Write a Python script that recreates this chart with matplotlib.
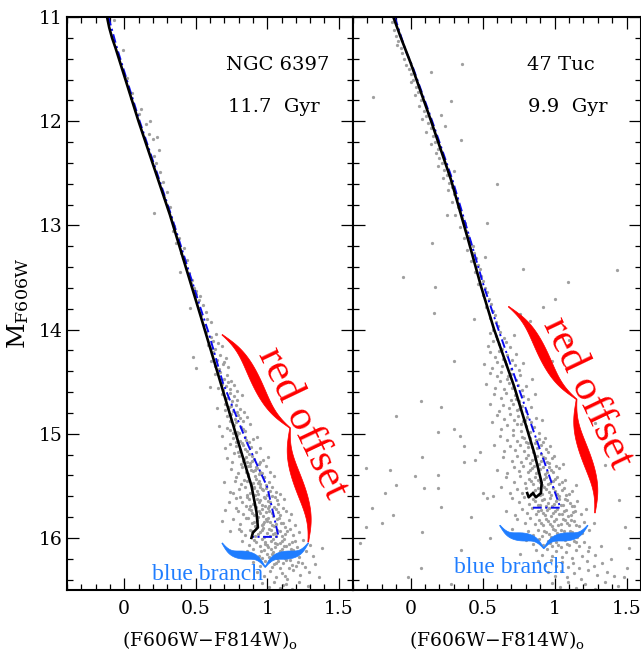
import numpy as np
import matplotlib
matplotlib.use("Agg")
import matplotlib.pyplot as plt
from matplotlib.ticker import MultipleLocator, FuncFormatter
from matplotlib.patches import Polygon

plt.rcParams['font.family'] = ['DejaVu Serif']
plt.rcParams['mathtext.fontset'] = 'dejavuserif'

# ---- isochrones (colour, magnitude) ----
ngc6397_iso_color = [-0.12, -0.105, -0.085, -0.06, 0.10, 0.32, 0.53, 0.65, 0.78, 0.89, 0.925, 0.935, 0.90, 0.89]
ngc6397_iso_mag = [11.0, 11.1, 11.2, 11.3, 12.0, 12.9, 13.85, 14.4, 15.0, 15.5, 15.75, 15.9, 15.95, 16.0]
ngc6397_alt_color = [-0.11, -0.05, 0.108, 0.328, 0.535, 0.59, 0.69, 0.86, 1.0, 1.08, 0.90]
ngc6397_alt_mag = [11.0, 11.3, 12.0, 12.9, 13.8, 14.03, 14.51, 15.09, 15.51, 15.99, 15.99]

tuc47_iso_color = [-0.12, -0.07, 0.0, 0.14, 0.28, 0.40, 0.49, 0.58, 0.72, 0.86, 0.91, 0.905, 0.87, 0.85, 0.82, 0.81]
tuc47_iso_mag = [11.0, 11.19, 11.44, 11.99, 12.56, 13.14, 13.59, 14.0, 14.55, 15.19, 15.47, 15.57, 15.61, 15.57, 15.61, 15.57]
tuc47_alt_color = [-0.11, -0.035, 0.015, 0.15, 0.29, 0.415, 0.51, 0.61, 0.85, 1.04, 0.83]
tuc47_alt_mag = [11.0, 11.32, 11.48, 12.0, 12.56, 13.14, 13.59, 14.0, 14.96, 15.71, 15.71]

ngc6397_stars = [
    (-0.07, 11.03), (-0.01, 11.32), (0.02, 11.59), (0.055, 11.73), (0.05, 11.78), (0.12, 11.88), (0.10, 11.93),
    (0.18, 12.0), (0.15, 12.03), (0.17, 12.12), (0.23, 12.15), (0.20, 12.17), (0.24, 12.28), (0.21, 12.33),
    (0.22, 12.40), (0.25, 12.49), (0.27, 12.58), (0.30, 12.68), (0.28, 12.73), (0.32, 12.82), (0.21, 12.88),
    (0.33, 12.93), (0.35, 13.01), (0.34, 13.05), (0.38, 13.12), (0.36, 13.17), (0.42, 13.22), (0.40, 13.27),
    (0.41, 13.31), (0.44, 13.33), (0.39, 13.45), (0.45, 13.46), (0.475, 13.52), (0.47, 13.55), (0.49, 13.60),
    (0.50, 13.63), (0.50, 13.66), (0.53, 13.68), (0.52, 13.72), (0.55, 13.76), (0.46, 13.79), (0.57, 13.83),
    (0.54, 13.86), (0.58, 13.90), (0.61, 13.93), (0.56, 13.96),
    (0.572, 14.02), (0.604, 14.07), (0.623, 14.11), (0.641, 14.04), (0.588, 14.15), (0.612, 14.18), (0.657, 14.13),
    (0.633, 14.19), (0.681, 14.16),
    (0.482, 14.26), (0.618, 14.22), (0.652, 14.29), (0.671, 14.24), (0.697, 14.31), (0.634, 14.35), (0.503, 14.37),
    (0.661, 14.38), (0.688, 14.33), (0.712, 14.27), (0.729, 14.36), (0.607, 14.30),
    (0.632, 14.43), (0.668, 14.41), (0.701, 14.47), (0.722, 14.44), (0.748, 14.49), (0.681, 14.52), (0.659, 14.56),
    (0.693, 14.58), (0.714, 14.54), (0.741, 14.57), (0.768, 14.53), (0.787, 14.59), (0.598, 14.55), (0.726, 14.50),
    (0.682, 14.62), (0.716, 14.66), (0.739, 14.61), (0.771, 14.64), (0.792, 14.68), (0.707, 14.71), (0.823, 14.63),
    (0.752, 14.69), (0.703, 14.77), (0.731, 14.74), (0.758, 14.78), (0.784, 14.72), (0.808, 14.76), (0.839, 14.79),
    (0.747, 14.73), (0.792, 14.79), (0.652, 14.75),
    (0.722, 14.83), (0.748, 14.81), (0.773, 14.86), (0.797, 14.82), (0.829, 14.88), (0.858, 14.84), (0.781, 14.89),
    (0.812, 14.85), (0.741, 14.88), (0.662, 14.93), (0.739, 14.96), (0.768, 14.92), (0.791, 14.98), (0.819, 14.94),
    (0.847, 14.97), (0.878, 14.91), (0.803, 14.99), (0.834, 14.95), (0.758, 14.99),
    (0.683, 15.02), (0.761, 15.04), (0.788, 15.01), (0.812, 15.07), (0.843, 15.03), (0.871, 15.08), (0.902, 15.05),
    (0.823, 15.09), (0.852, 15.06), (0.928, 15.03), (0.779, 15.08), (0.703, 15.14), (0.781, 15.12), (0.809, 15.16),
    (0.831, 15.11), (0.862, 15.17), (0.889, 15.13), (0.921, 15.18), (0.842, 15.15), (0.871, 15.19), (0.952, 15.14),
    (0.798, 15.18),
    (0.722, 15.23), (0.802, 15.21), (0.828, 15.26), (0.851, 15.22), (0.879, 15.28), (0.908, 15.24), (0.941, 15.29),
    (0.862, 15.27), (0.893, 15.21), (0.968, 15.25), (0.817, 15.29), (1.003, 15.22), (0.748, 15.34), (0.821, 15.32),
    (0.853, 15.37), (0.877, 15.31), (0.902, 15.36), (0.931, 15.33), (0.962, 15.38), (0.989, 15.31), (0.869, 15.39),
    (0.912, 15.35), (1.018, 15.37), (0.798, 15.38), (0.944, 15.39),
    (0.781, 15.42), (0.838, 15.44), (0.867, 15.41), (0.898, 15.47), (0.923, 15.43), (0.952, 15.48), (0.978, 15.42),
    (1.011, 15.46), (0.887, 15.49), (0.941, 15.45), (1.049, 15.41), (0.819, 15.48), (0.701, 15.46), (0.803, 15.53),
    (0.842, 15.51), (0.879, 15.57), (0.911, 15.52), (0.939, 15.58), (0.972, 15.54), (1.002, 15.59), (1.031, 15.51),
    (1.062, 15.56), (0.861, 15.59), (0.928, 15.55), (0.991, 15.52), (1.088, 15.58), (0.762, 15.57), (0.951, 15.51),
    (0.782, 15.62), (0.823, 15.66), (0.859, 15.61), (0.898, 15.67), (0.931, 15.63), (0.962, 15.68), (0.988, 15.62),
    (1.021, 15.66), (1.052, 15.61), (1.079, 15.67), (0.878, 15.69), (0.951, 15.64), (1.012, 15.69), (1.118, 15.63),
    (0.731, 15.66), (0.702, 15.73), (0.779, 15.71), (0.831, 15.77), (0.872, 15.72), (0.909, 15.78), (0.942, 15.74),
    (0.971, 15.79), (1.003, 15.71), (1.032, 15.76), (1.061, 15.72), (1.092, 15.78), (1.128, 15.74), (0.893, 15.76),
    (0.962, 15.72), (1.041, 15.79), (1.163, 15.77), (0.991, 15.75),
    (0.683, 15.84), (0.762, 15.82), (0.808, 15.87), (0.851, 15.81), (0.892, 15.86), (0.928, 15.83), (0.961, 15.88),
    (0.989, 15.82), (1.021, 15.85), (1.048, 15.89), (1.081, 15.81), (1.109, 15.86), (1.151, 15.83), (0.918, 15.89),
    (0.978, 15.85), (1.062, 15.87), (1.192, 15.88), (1.004, 15.81), (0.741, 15.93), (0.802, 15.91), (0.843, 15.97),
    (0.879, 15.92), (0.918, 15.98), (0.949, 15.94), (0.981, 15.99), (1.012, 15.91), (1.041, 15.96), (1.072, 15.92),
    (1.103, 15.98), (1.138, 15.93), (1.182, 15.97), (0.961, 15.92), (1.023, 15.98), (1.221, 15.94), (1.058, 15.95),
    (0.821, 16.03), (0.871, 16.07), (0.908, 16.02), (0.951, 16.08), (0.982, 16.04), (1.009, 16.09), (1.041, 16.01),
    (1.069, 16.06), (1.102, 16.03), (1.131, 16.08), (1.172, 16.04), (1.209, 16.09), (1.251, 16.02), (0.988, 16.06),
    (1.052, 16.05), (1.302, 16.07), (1.118, 16.01), (0.861, 16.13), (0.903, 16.11), (0.941, 16.17), (0.979, 16.12),
    (1.012, 16.18), (1.043, 16.14), (1.071, 16.19), (1.101, 16.11), (1.142, 16.16), (1.181, 16.12), (1.221, 16.18),
    (1.272, 16.13), (1.318, 16.17), (1.031, 16.15), (1.121, 16.19), (0.962, 16.19), (1.38, 16.10),
    (0.902, 16.23), (0.951, 16.27), (0.988, 16.22), (1.031, 16.28), (1.062, 16.24), (1.089, 16.29), (1.131, 16.21),
    (1.172, 16.26), (1.212, 16.23), (1.262, 16.28), (1.331, 16.25), (1.079, 16.22), (1.151, 16.29), (0.932, 16.33),
    (0.981, 16.37), (1.022, 16.32), (1.061, 16.38), (1.102, 16.34), (1.141, 16.39), (1.182, 16.31), (1.231, 16.36),
    (1.291, 16.33), (1.121, 16.37), (1.362, 16.38), (0.961, 16.43), (1.012, 16.47), (1.049, 16.42), (1.091, 16.48),
    (1.132, 16.44), (1.172, 16.49), (1.221, 16.42), (1.282, 16.46), (1.112, 16.45),
    (0.835, 15.245), (0.866, 15.305), (0.897, 15.265), (0.925, 15.315), (0.953, 15.275), (0.884, 15.345),
    (0.916, 15.405), (0.947, 15.365), (0.976, 15.415), (0.858, 15.455), (0.905, 15.515), (0.934, 15.475),
    (0.962, 15.535), (0.993, 15.495), (1.021, 15.545), (0.872, 15.625), (0.913, 15.585), (0.945, 15.655),
    (0.977, 15.605), (1.006, 15.645), (1.037, 15.595), (1.066, 15.635), (0.851, 15.695), (0.884, 15.735),
    (0.923, 15.705), (0.953, 15.765), (0.984, 15.695), (1.016, 15.745), (1.047, 15.705), (1.078, 15.755),
    (1.109, 15.715), (0.867, 15.805), (0.905, 15.845), (0.939, 15.795), (0.971, 15.865), (1.002, 15.835),
    (1.034, 15.875), (1.066, 15.815), (1.095, 15.855), (1.127, 15.895), (0.893, 15.935), (0.934, 15.965),
    (0.968, 15.905), (0.997, 15.955), (1.029, 15.925), (1.062, 15.985), (1.091, 15.935), (1.121, 15.965),
    (1.161, 15.915), (0.923, 16.035), (0.966, 16.015), (0.998, 16.065), (1.025, 16.025), (1.058, 16.085),
    (1.089, 16.045), (1.117, 16.075), (1.152, 16.055), (1.191, 16.025), (0.957, 16.125), (0.996, 16.155),
    (1.028, 16.105), (1.061, 16.165), (1.093, 16.125), (1.125, 16.145), (1.163, 16.105), (1.201, 16.155),
    (1.011, 16.225), (1.049, 16.255), (1.112, 16.245), (1.159, 16.215), (1.198, 16.265), (1.245, 16.245),
    (0.812, 15.605), (0.799, 15.745), (0.818, 15.935), (0.738, 15.555), (0.772, 15.455), (0.755, 15.275),
    (0.716, 14.945), (0.742, 15.095), (0.771, 15.185),
]

tuc47_stars = [
    (-0.13, 11.05), (-0.115, 11.12), (-0.10, 11.18), (-0.085, 11.23), (-0.07, 11.30), (-0.095, 11.27), (-0.06, 11.35),
    (-0.045, 11.40), (-0.03, 11.46), (-0.01, 11.50), (0.005, 11.55), (0.02, 11.60), (0.0, 11.62), (0.035, 11.67),
    (0.05, 11.72), (0.03, 11.75), (0.07, 11.80), (0.06, 11.85), (0.09, 11.90), (0.105, 11.95), (0.08, 11.98),
    (0.12, 12.02), (0.14, 12.07), (0.11, 12.10), (0.155, 12.14), (0.17, 12.20), (0.145, 12.22), (0.19, 12.27),
    (0.175, 12.31), (0.20, 12.35), (0.215, 12.40), (0.19, 12.43), (0.235, 12.47), (0.25, 12.52), (0.225, 12.55),
    (0.27, 12.59), (0.29, 12.63), (0.26, 12.66), (0.30, 12.70), (0.32, 12.75), (0.29, 12.78), (0.33, 12.82),
    (0.345, 12.86), (0.31, 12.90), (0.36, 12.93), (0.375, 12.98), (0.34, 13.02), (0.385, 13.05), (0.40, 13.10),
    (0.37, 13.12), (0.415, 13.16), (0.43, 13.20), (0.395, 13.24), (0.44, 13.27), (0.455, 13.31), (0.42, 13.34),
    (0.465, 13.38), (0.48, 13.42), (0.45, 13.45), (0.49, 13.49), (0.505, 13.53), (0.47, 13.56), (0.515, 13.60),
    (0.53, 13.64), (0.50, 13.67), (0.545, 13.71), (0.56, 13.75), (0.525, 13.78), (0.57, 13.82), (0.585, 13.86),
    (0.55, 13.89), (0.595, 13.93), (0.61, 13.97), (0.575, 14.00),
    (0.553, 14.03), (0.592, 14.06), (0.621, 14.02), (0.648, 14.08), (0.571, 14.11), (0.612, 14.14), (0.664, 14.12),
    (0.689, 14.17), (0.538, 14.16), (0.632, 14.19), (0.602, 14.09), (0.715, 14.05),
    (0.548, 14.22), (0.583, 14.26), (0.617, 14.21), (0.645, 14.28), (0.672, 14.24), (0.701, 14.29), (0.731, 14.23),
    (0.598, 14.31), (0.632, 14.35), (0.661, 14.33), (0.694, 14.38), (0.723, 14.34), (0.752, 14.39), (0.566, 14.37),
    (0.781, 14.32), (0.512, 14.33),
    (0.552, 14.42), (0.598, 14.45), (0.631, 14.41), (0.667, 14.47), (0.698, 14.43), (0.729, 14.48), (0.758, 14.44),
    (0.621, 14.49), (0.682, 14.51), (0.713, 14.55), (0.744, 14.53), (0.775, 14.58), (0.803, 14.54), (0.651, 14.57),
    (0.583, 14.56), (0.521, 14.52), (0.841, 14.47),
    (0.581, 14.62), (0.628, 14.66), (0.663, 14.61), (0.696, 14.68), (0.724, 14.63), (0.752, 14.69), (0.783, 14.64),
    (0.812, 14.67), (0.642, 14.72), (0.681, 14.75), (0.711, 14.71), (0.741, 14.77), (0.772, 14.73), (0.801, 14.78),
    (0.833, 14.74), (0.611, 14.78), (0.551, 14.71), (0.861, 14.62),
    (0.602, 14.82), (0.651, 14.86), (0.689, 14.81), (0.718, 14.87), (0.748, 14.83), (0.779, 14.88), (0.808, 14.84),
    (0.838, 14.89), (0.868, 14.85), (0.671, 14.92), (0.709, 14.96), (0.738, 14.91), (0.769, 14.97), (0.798, 14.93),
    (0.829, 14.98), (0.859, 14.94), (0.892, 14.99), (0.631, 14.95), (0.568, 14.89), (0.912, 14.87),
    (0.621, 15.02), (0.672, 15.06), (0.709, 15.01), (0.741, 15.07), (0.772, 15.03), (0.802, 15.08), (0.831, 15.04),
    (0.862, 15.09), (0.891, 15.05), (0.922, 15.08), (0.691, 15.12), (0.728, 15.16), (0.759, 15.11), (0.789, 15.17),
    (0.818, 15.13), (0.849, 15.18), (0.879, 15.14), (0.908, 15.19), (0.939, 15.15), (0.968, 15.12), (0.651, 15.17),
    (0.582, 15.11),
    (0.642, 15.22), (0.701, 15.26), (0.738, 15.21), (0.769, 15.27), (0.801, 15.23), (0.832, 15.28), (0.861, 15.24),
    (0.889, 15.29), (0.918, 15.22), (0.948, 15.27), (0.981, 15.23), (0.718, 15.32), (0.751, 15.36), (0.782, 15.31),
    (0.812, 15.37), (0.842, 15.33), (0.871, 15.38), (0.901, 15.34), (0.931, 15.39), (0.962, 15.32), (0.992, 15.37),
    (1.028, 15.33), (0.672, 15.38), (0.601, 15.35), (1.061, 15.29),
    (0.662, 15.42), (0.721, 15.46), (0.758, 15.41), (0.791, 15.47), (0.821, 15.43), (0.851, 15.48), (0.882, 15.44),
    (0.911, 15.49), (0.942, 15.42), (0.971, 15.47), (1.002, 15.43), (1.033, 15.48), (1.072, 15.44), (0.738, 15.53),
    (0.771, 15.57), (0.803, 15.52), (0.836, 15.58), (0.866, 15.54), (0.897, 15.59), (0.928, 15.51), (0.958, 15.56),
    (0.989, 15.52), (1.019, 15.58), (1.049, 15.54), (1.081, 15.59), (1.118, 15.55), (0.692, 15.57), (0.631, 15.51),
    (1.152, 15.49),
    (0.701, 15.62), (0.751, 15.66), (0.789, 15.61), (0.822, 15.67), (0.852, 15.63), (0.883, 15.68), (0.912, 15.64),
    (0.941, 15.69), (0.969, 15.62), (0.998, 15.67), (1.028, 15.63), (1.058, 15.68), (1.089, 15.64), (1.122, 15.69),
    (1.158, 15.65), (0.772, 15.72), (0.808, 15.76), (0.841, 15.71), (0.872, 15.77), (0.903, 15.73), (0.932, 15.78),
    (0.961, 15.71), (0.991, 15.76), (1.019, 15.72), (1.049, 15.77), (1.079, 15.73), (1.111, 15.78), (1.142, 15.74),
    (1.181, 15.77), (0.728, 15.78), (0.662, 15.74), (1.221, 15.72),
    (0.742, 15.82), (0.792, 15.86), (0.831, 15.81), (0.862, 15.87), (0.892, 15.83), (0.922, 15.88), (0.951, 15.84),
    (0.981, 15.89), (1.011, 15.82), (1.041, 15.87), (1.071, 15.83), (1.101, 15.88), (1.132, 15.84), (1.168, 15.89),
    (1.202, 15.85), (0.812, 15.93), (0.851, 15.97), (0.883, 15.92), (0.913, 15.98), (0.943, 15.94), (0.972, 15.99),
    (1.002, 15.92), (1.032, 15.97), (1.062, 15.93), (1.092, 15.98), (1.123, 15.94), (1.158, 15.99), (1.192, 15.95),
    (1.241, 15.92), (0.771, 15.96), (0.702, 15.91), (1.272, 15.86),
    (0.802, 16.02), (0.852, 16.06), (0.889, 16.01), (0.921, 16.07), (0.952, 16.03), (0.983, 16.08), (1.012, 16.04),
    (1.043, 16.09), (1.073, 16.02), (1.102, 16.07), (1.133, 16.03), (1.168, 16.08), (1.201, 16.04), (1.238, 16.09),
    (0.871, 16.12), (0.912, 16.16), (0.948, 16.11), (0.981, 16.17), (1.013, 16.13), (1.048, 16.18), (1.082, 16.14),
    (1.118, 16.19), (1.152, 16.12), (1.191, 16.17), (1.232, 16.13), (1.281, 16.16), (0.762, 16.15), (1.322, 16.08),
    (0.882, 16.22), (0.931, 16.26), (0.972, 16.21), (1.012, 16.27), (1.052, 16.23), (1.092, 16.28), (1.131, 16.24),
    (1.172, 16.29), (1.222, 16.22), (1.271, 16.27), (1.331, 16.24), (0.952, 16.33), (1.002, 16.37), (1.043, 16.32),
    (1.088, 16.38), (1.132, 16.34), (1.181, 16.39), (1.232, 16.31), (1.291, 16.36), (1.362, 16.33), (1.412, 16.37),
    (0.981, 16.43), (1.039, 16.47), (1.091, 16.42), (1.151, 16.48), (1.212, 16.44), (1.282, 16.49), (1.351, 16.42),
    (1.442, 16.46), (1.482, 16.38), (1.502, 16.29),
    (0.786, 15.045), (0.815, 15.085), (0.846, 15.125), (0.874, 15.065), (0.905, 15.105), (0.934, 15.045),
    (0.953, 15.175), (0.817, 15.205), (0.846, 15.255), (0.875, 15.215), (0.904, 15.265), (0.933, 15.235),
    (0.964, 15.285), (0.997, 15.215), (0.826, 15.345), (0.856, 15.305), (0.886, 15.355), (0.916, 15.315),
    (0.946, 15.365), (0.977, 15.345), (1.008, 15.305), (0.836, 15.455), (0.866, 15.415), (0.896, 15.465),
    (0.926, 15.435), (0.956, 15.485), (0.987, 15.455), (1.017, 15.415), (1.052, 15.465), (0.852, 15.555),
    (0.882, 15.525), (0.912, 15.575), (0.943, 15.535), (0.973, 15.585), (1.004, 15.545), (1.034, 15.595),
    (1.066, 15.525), (1.101, 15.575), (0.866, 15.645), (0.897, 15.685), (0.927, 15.625), (0.955, 15.665),
    (0.984, 15.695), (1.013, 15.645), (1.043, 15.685), (1.074, 15.625), (1.105, 15.665), (1.138, 15.695),
    (0.887, 15.745), (0.917, 15.765), (0.947, 15.735), (0.976, 15.785), (1.006, 15.745), (1.034, 15.775),
    (1.064, 15.745), (1.095, 15.785), (1.127, 15.755), (0.907, 15.855), (0.937, 15.815), (0.966, 15.865),
    (0.996, 15.835), (1.026, 15.875), (1.056, 15.815), (1.086, 15.855), (1.117, 15.825), (1.151, 15.875),
    (0.928, 15.935), (0.958, 15.965), (0.987, 15.915), (1.017, 15.955), (1.047, 15.925), (1.077, 15.975),
    (1.108, 15.935), (1.141, 15.965), (0.967, 16.045), (1.027, 16.065), (1.089, 16.055), (1.151, 16.035),
    (0.764, 14.905), (0.794, 14.865), (0.754, 14.765), (0.733, 14.665), (0.703, 14.565), (0.676, 14.445),
    (0.656, 14.305),
    # field stars
    (-0.26, 11.77), (0.14, 11.53), (0.36, 11.45), (0.28, 11.81), (0.21, 11.94), (0.24, 12.05), (0.35, 12.18),
    (0.30, 12.48), (0.53, 12.98), (0.15, 13.17), (0.78, 13.42), (1.43, 13.43), (0.17, 13.59), (1.09, 13.54),
    (1.00, 13.71), (0.92, 13.78), (0.76, 13.85), (0.83, 13.92), (0.16, 13.84), (0.07, 14.69), (-0.10, 14.83),
    (0.21, 14.74), (0.19, 14.98), (0.30, 14.95), (0.34, 15.02), (0.37, 15.12), (0.37, 15.27), (0.45, 15.25),
    (0.48, 15.18), (0.08, 15.22), (-0.31, 15.33), (-0.14, 15.35), (0.03, 15.41), (0.19, 15.40), (0.19, 15.52),
    (-0.10, 15.49), (0.09, 15.52), (-0.18, 15.57), (-0.27, 15.71), (-0.20, 15.86), (-0.12, 15.78), (-0.31, 15.90),
    (0.08, 15.94), (0.21, 15.70), (0.35, 16.12), (0.07, 16.29), (0.55, 16.00), (0.50, 15.57), (0.53, 15.62),
    (0.57, 15.60), (0.42, 15.80), (-0.35, 16.05), (-0.02, 16.38), (0.28, 16.44), (1.45, 15.64), (1.49, 15.90),
    (1.35, 15.30), (1.28, 14.90), (1.52, 16.10), (1.39, 16.20), (1.10, 14.10), (1.20, 14.50), (0.98, 14.30),
    (0.44, 13.90), (0.30, 14.30), (0.25, 12.90), (0.60, 12.60), (0.52, 13.30), (-0.05, 13.50),
]

cluster_names = ["NGC 6397", "47 Tuc"]
cluster_ages = ["11.7  Gyr", "9.9  Gyr"]

RED = '#ff0000'
LIGHT_BLUE = '#1f7dff'
LINE_BLUE = '#0a0af0'
GREY = '#a0a0a0'


def draw_brace(ax, end_a, end_b, depth, thick, color, k=5.0):
    # curly brace between two data points, cusp on the right-hand side of b -> a
    pa = ax.transData.transform(end_a)
    pb = ax.transData.transform(end_b)
    vec = pa - pb
    length = np.hypot(vec[0], vec[1])
    d = vec / length
    n = np.array([d[1], -d[0]])
    u = np.linspace(0, 1, 120)
    q = depth / 2 * (np.tanh(k * u) + np.tanh(k * (u - 1)) + 1)
    c1 = pb + np.outer(u / 2 * length, d) + np.outer(q, n)
    c2 = pb + np.outer((0.5 + u / 2) * length, d) + np.outer(q[::-1], n)
    center = np.vstack([c1, c2[1:]])
    t1 = 0.8 + (thick - 0.8) * np.sin(np.pi * u) ** 1.3
    t = np.concatenate([t1, t1[::-1][1:]])
    tang = np.gradient(center, axis=0)
    tang /= np.hypot(tang[:, 0], tang[:, 1])[:, None]
    nrm = np.column_stack([-tang[:, 1], tang[:, 0]])
    upper = center + nrm * t[:, None] / 2
    lower = center - nrm * t[:, None] / 2
    poly = np.vstack([upper, lower[::-1]])
    poly = ax.transData.inverted().transform(poly)
    ax.add_patch(Polygon(poly, closed=True, fc=color, ec=color, lw=0.5, clip_on=False, zorder=5))


fig = plt.figure(figsize=(6.41, 6.50), dpi=100)
ax1 = fig.add_axes([67 / 641, 60 / 650, 286 / 641, 573 / 650])
ax2 = fig.add_axes([353 / 641, 60 / 650, 288 / 641, 573 / 650])

panels = [
    (ax1, ngc6397_stars, ngc6397_iso_color, ngc6397_iso_mag, ngc6397_alt_color, ngc6397_alt_mag),
    (ax2, tuc47_stars, tuc47_iso_color, tuc47_iso_mag, tuc47_alt_color, tuc47_alt_mag),
]

for ax, stars, ic, im, ac, am in panels:
    sx, sm = np.array(stars).T
    ax.scatter(sx, sm, s=5.5, marker='o', color=GREY, linewidths=0, zorder=1)
    ax.plot(ac, am, color=LINE_BLUE, lw=1.4, ls=(0, (4.5, 1.8, 1.1, 1.8)), zorder=2)
    ax.plot(ic, im, color='black', lw=1.9, zorder=3)

    ax.set_xlim(-0.4, 1.6)
    ax.set_ylim(16.5, 11.0)
    ax.xaxis.set_major_locator(MultipleLocator(0.5))
    ax.xaxis.set_minor_locator(MultipleLocator(0.1))
    ax.yaxis.set_major_locator(MultipleLocator(1))
    ax.yaxis.set_minor_locator(MultipleLocator(0.2))
    ax.xaxis.set_major_formatter(FuncFormatter(lambda v, _: f'{v:g}'))
    ax.yaxis.set_major_formatter(FuncFormatter(lambda v, _: f'{v:g}'))
    ax.tick_params(which='both', direction='in', top=True, right=True, width=0.9, labelsize=13.5)
    ax.tick_params(which='major', length=8.5)
    ax.tick_params(which='minor', length=4.3)
    ax.tick_params(axis='x', pad=7)
    ax.tick_params(axis='y', pad=3.5)
    for sp in ax.spines.values():
        sp.set_linewidth(1.5)
    ax.set_xlabel(r'(F606W$-$F814W)$_\mathregular{o}$', fontsize=13.5, labelpad=8)

ax2.tick_params(labelleft=False)
ax1.set_ylabel(r'$\mathregular{M_{F606W}}$', fontsize=18, labelpad=5)

# cluster labels
ax1.text(0.713, 11.51, cluster_names[0], fontsize=14, ha='left', va='baseline')
ax1.text(0.727, 11.91, cluster_ages[0], fontsize=14, ha='left', va='baseline')
ax2.text(0.81, 11.51, cluster_names[1], fontsize=14, ha='left', va='baseline')
ax2.text(0.817, 11.91, cluster_ages[1], fontsize=14, ha='left', va='baseline')

# annotations
draw_brace(ax1, (0.685, 14.05), (1.287, 16.04), 27, 9.5, RED, k=4.5)
draw_brace(ax2, (0.68, 13.78), (1.28, 15.76), 27, 9.5, RED, k=4.5)
draw_brace(ax1, (1.287, 16.05), (0.685, 16.05), 24, 8, LIGHT_BLUE, k=5)
draw_brace(ax2, (1.23, 15.88), (0.62, 15.88), 23, 8, LIGHT_BLUE, k=5)

ax1.text(1.248, 14.90, 'red offset', color=RED, fontsize=31, family='Liberation Serif',
         rotation=-64.5, rotation_mode='anchor', ha='center', va='center', zorder=6)
ax2.text(1.229, 14.61, 'red offset', color=RED, fontsize=31, family='Liberation Serif',
         rotation=-64.5, rotation_mode='anchor', ha='center', va='center', zorder=6)
ax1.text(0.584, 16.355, 'blue branch', color=LIGHT_BLUE, fontsize=17, family='Liberation Serif',
         ha='center', va='center', zorder=6)
ax2.text(0.686, 16.28, 'blue branch', color=LIGHT_BLUE, fontsize=17, family='Liberation Serif',
         ha='center', va='center', zorder=6)

fig.savefig('out.png', dpi=100)
